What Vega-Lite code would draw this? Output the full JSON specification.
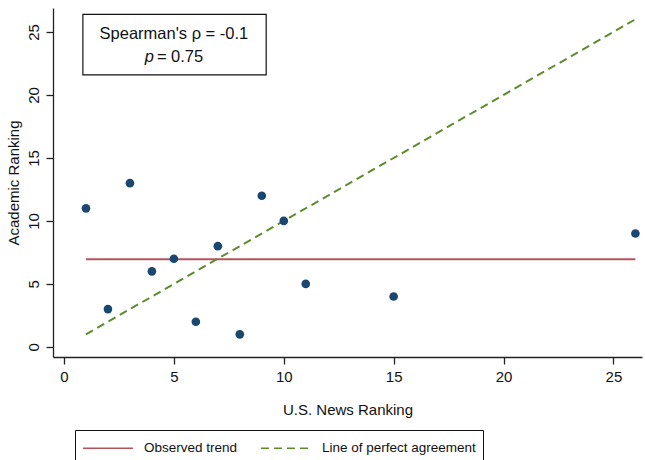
{
  "$schema": "https://vega.github.io/schema/vega-lite/v6.json",
  "width": 589,
  "height": 349,
  "autosize": {"type": "none"},
  "padding": {"left": 53, "top": 8, "right": 3, "bottom": 103},
  "background": "white",
  "config": {
    "view": {"stroke": null},
    "font": "Liberation Sans",
    "axis": {
      "grid": false,
      "domainColor": "#222222",
      "domainWidth": 1.3,
      "tickColor": "#222222",
      "tickWidth": 1.3,
      "tickSize": 7,
      "labelFont": "Liberation Sans",
      "labelFontSize": 15,
      "labelColor": "#111111",
      "titleFont": "Liberation Sans",
      "titleFontSize": 15,
      "titleFontWeight": "normal",
      "titleColor": "#111111"
    }
  },
  "datasets": {
    "points": [
      {"us": 1, "acad": 11},
      {"us": 2, "acad": 3},
      {"us": 3, "acad": 13},
      {"us": 4, "acad": 6},
      {"us": 5, "acad": 7},
      {"us": 6, "acad": 2},
      {"us": 7, "acad": 8},
      {"us": 8, "acad": 1},
      {"us": 9, "acad": 12},
      {"us": 10, "acad": 10},
      {"us": 11, "acad": 5},
      {"us": 15, "acad": 4},
      {"us": 26, "acad": 9}
    ],
    "lines": [
      {"series": "Observed trend", "us": 1, "acad": 6.95},
      {"series": "Observed trend", "us": 26, "acad": 6.95},
      {"series": "Line of perfect agreement", "us": 1, "acad": 1},
      {"series": "Line of perfect agreement", "us": 26, "acad": 26}
    ],
    "box": [
      {"x1": 0.86, "x2": 9.2, "y1": 21.6, "y2": 26.4}
    ],
    "labels": [
      {"x": 5, "y": 24.85, "t": "Spearman's \u03c1 = -0.1"}
    ],
    "plab": [
      {"x": 5, "y": 23.0}
    ]
  },
  "layer": [
    {
      "data": {"name": "box"},
      "mark": {"type": "rect", "fill": "white", "stroke": "#111111", "strokeWidth": 1.2},
      "encoding": {
        "x": {"field": "x1", "type": "quantitative", "scale": {"domain": [-0.5, 26.3], "nice": false, "zero": false}},
        "x2": {"field": "x2"},
        "y": {"field": "y1", "type": "quantitative", "scale": {"domain": [-0.8, 26.9], "nice": false, "zero": false}},
        "y2": {"field": "y2"}
      }
    },
    {
      "data": {"name": "labels"},
      "mark": {"type": "text", "font": "Liberation Sans", "fontSize": 16.5, "color": "#111111", "align": "center", "baseline": "middle"},
      "encoding": {
        "x": {"field": "x", "type": "quantitative"},
        "y": {"field": "y", "type": "quantitative"},
        "text": {"field": "t"}
      }
    },
    {
      "data": {"name": "plab"},
      "mark": {"type": "text", "font": "Liberation Sans", "fontSize": 16.5, "fontStyle": "italic", "color": "#111111", "align": "right", "baseline": "middle", "dx": -20},
      "encoding": {
        "x": {"field": "x", "type": "quantitative"},
        "y": {"field": "y", "type": "quantitative"},
        "text": {"value": "p"}
      }
    },
    {
      "data": {"name": "plab"},
      "mark": {"type": "text", "font": "Liberation Sans", "fontSize": 16.5, "color": "#111111", "align": "left", "baseline": "middle", "dx": -17},
      "encoding": {
        "x": {"field": "x", "type": "quantitative"},
        "y": {"field": "y", "type": "quantitative"},
        "text": {"value": "= 0.75"}
      }
    },
    {
      "data": {"name": "lines"},
      "mark": {"type": "line", "strokeWidth": 2},
      "encoding": {
        "x": {"field": "us", "type": "quantitative", "title": "U.S. News Ranking",
              "axis": {"values": [0, 5, 10, 15, 20, 25], "labelPadding": 5, "titlePadding": 18}},
        "y": {"field": "acad", "type": "quantitative", "title": "Academic Ranking",
              "axis": {"values": [0, 5, 10, 15, 20, 25], "labelAngle": -90, "labelAlign": "center", "labelBaseline": "bottom", "labelPadding": 5, "titlePadding": 5}},
        "detail": {"field": "series"},
        "color": {
          "field": "series", "type": "nominal",
          "scale": {"domain": ["Observed trend", "Line of perfect agreement"], "range": ["#b5525a", "#5b8c2e"]},
          "legend": {
            "title": null,
            "orient": "none",
            "legendX": 22,
            "legendY": 422,
            "direction": "horizontal",
            "symbolType": "M-1,0H4",
            "symbolSize": 400,
            "symbolStrokeWidth": 1.6,
            "labelFont": "Liberation Sans",
            "labelFontSize": 13.5,
            "labelColor": "#111111",
            "labelOffset": 40,
            "columnPadding": 19,
            "strokeColor": "#111111",
            "fillColor": "white",
            "padding": 7,
            "labelLimit": 400
          }
        },
        "strokeDash": {
          "field": "series", "type": "nominal",
          "scale": {"domain": ["Observed trend", "Line of perfect agreement"], "range": [[1, 0], [8, 5]]},
          "legend": null
        }
      }
    },
    {
      "data": {"name": "points"},
      "mark": {"type": "circle", "size": 75, "color": "#1a476f", "opacity": 1},
      "encoding": {
        "x": {"field": "us", "type": "quantitative"},
        "y": {"field": "acad", "type": "quantitative"}
      }
    }
  ]
}
